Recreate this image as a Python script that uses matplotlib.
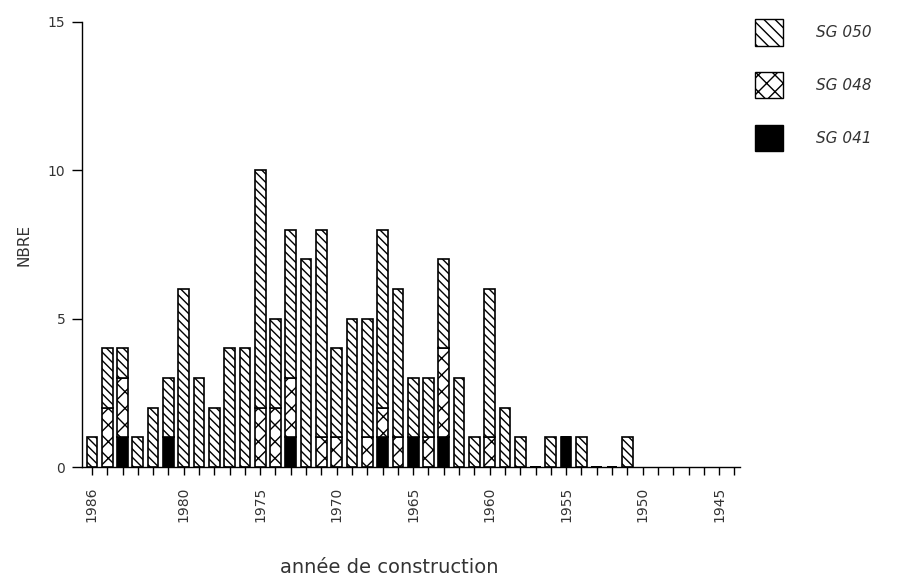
import matplotlib
matplotlib.use('Agg')
from matplotlib import pyplot as plt
from matplotlib.patches import Patch
import numpy as np

# years of construction (one bar per year)
years = [1986, 1985, 1984, 1983, 1982, 1981, 1980, 1979, 1978, 1977, 1976, 1975,
         1974, 1973, 1972, 1971, 1970, 1969, 1968, 1967, 1966, 1965, 1964, 1963,
         1962, 1961, 1960, 1959, 1958, 1957, 1956, 1955, 1954, 1953, 1952, 1951]
# number of units per series
sg041 = [0, 0, 1, 0, 0, 1, 0, 0, 0, 0, 0, 0,
         0, 1, 0, 0, 0, 0, 0, 1, 0, 1, 0, 1,
         0, 0, 0, 0, 0, 0, 0, 1, 0, 0, 0, 0]
sg048 = [0, 2, 2, 0, 0, 0, 0, 0, 0, 0, 0, 2,
         2, 2, 0, 1, 1, 0, 1, 1, 1, 0, 1, 3,
         0, 0, 1, 0, 0, 0, 0, 0, 0, 0, 0, 0]
sg050 = [1, 2, 1, 1, 2, 2, 6, 3, 2, 4, 4, 8,
         3, 5, 7, 7, 3, 5, 4, 6, 5, 2, 2, 3,
         3, 1, 5, 2, 1, 0, 1, 0, 1, 0, 0, 1]
labelled_years = [1986, 1980, 1975, 1970, 1965, 1960, 1955, 1950, 1945]
y_ticks = [0, 5, 10, 15]

plt.rcParams['hatch.linewidth'] = 1.0
plt.rcParams['font.family'] = 'DejaVu Sans'

fig = plt.figure(figsize=(9.06, 5.85), dpi=100)
ax = fig.add_axes([0.0905, 0.2017, 0.726, 0.7607])

w = 0.7
diag = '\\' * 4
cross = 'xx'
a041 = np.array(sg041)
a048 = np.array(sg048)
a050 = np.array(sg050)
ax.bar(years, a041, width=w, color='black', edgecolor='black', linewidth=1.2)
ax.bar(years, a048, width=w, bottom=a041, color='white', edgecolor='black',
       hatch=cross, linewidth=1.2)
ax.bar(years, a050, width=w, bottom=a041 + a048, color='white', edgecolor='black',
       hatch=diag, linewidth=1.2)

ax.set_xlim(1986.65, 1943.65)
ax.set_ylim(0, 15)
ax.spines['top'].set_visible(False)
ax.spines['right'].set_visible(False)
ax.spines['left'].set_linewidth(1.0)
ax.spines['bottom'].set_linewidth(1.0)

ax.set_xticks(labelled_years)
ax.set_xticks(range(1944, 1987), minor=True)
ax.set_xticklabels([str(y) for y in labelled_years], rotation=90, fontsize=10, color='#333333')
ax.tick_params(axis='x', which='both', direction='out', length=6, width=1, pad=8)
ax.set_yticks(y_ticks)
ax.set_yticklabels([str(v) for v in y_ticks], fontsize=10, color='#333333')
ax.tick_params(axis='y', direction='out', length=7, width=1, pad=5)

ax.set_ylabel('NBRE', fontsize=11, color='#333333', labelpad=12)
ax.set_xlabel('année de construction', fontsize=14, color='#333333')
ax.xaxis.set_label_coords(0.467, -0.205)

handles = [Patch(facecolor='white', edgecolor='black', hatch='\\' * 3, label='SG 050'),
           Patch(facecolor='white', edgecolor='black', hatch='xx', label='SG 048'),
           Patch(facecolor='black', edgecolor='black', label='SG 041')]
fig.legend(handles=handles, loc='upper left', bbox_to_anchor=(755 / 906, 1 - 19 / 585),
           frameon=False, borderpad=0, borderaxespad=0, handlelength=1.8,
           handleheight=2.3, labelspacing=1.72, handletextpad=2.2,
           prop={'size': 11, 'style': 'italic'}, labelcolor='#333333')

fig.savefig('out.png', dpi=100)
